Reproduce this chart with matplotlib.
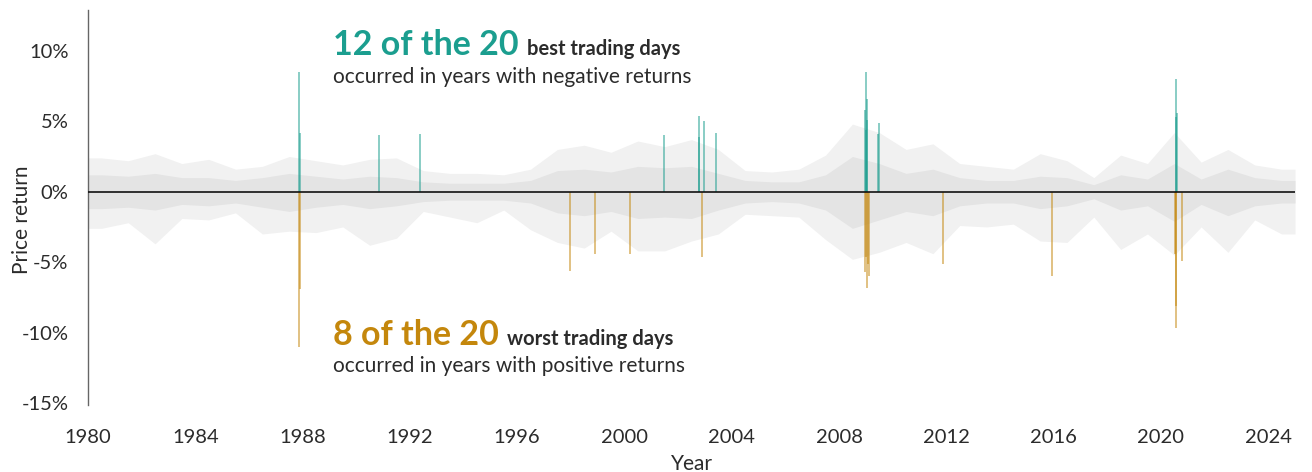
import numpy as np
import matplotlib.pyplot as plt

plt.rcParams['font.family'] = ['Lato', 'DejaVu Sans']

# approximate daily-return envelope per calendar year (read off the grey noise)
years = list(range(1980, 2025))
noise_hi = [2.4, 2.2, 2.7, 2.0, 2.3, 1.6, 1.8, 2.5, 2.2, 1.9, 2.3, 2.4, 1.5, 1.3, 1.3,
            1.2, 1.6, 3.0, 3.3, 2.8, 3.6, 3.2, 3.7, 3.0, 1.5, 1.4, 1.6, 2.6, 4.8, 4.2,
            3.0, 3.4, 2.0, 1.8, 1.6, 2.7, 2.2, 1.0, 2.6, 2.0, 4.2, 2.1, 3.0, 1.9, 1.6]
noise_lo = [-2.6, -2.2, -3.7, -1.9, -2.0, -1.5, -3.0, -2.8, -2.9, -2.5, -3.8, -3.3, -1.4, -1.8, -2.2,
            -1.3, -2.7, -3.6, -4.0, -2.8, -4.2, -4.2, -3.5, -3.0, -1.6, -1.7, -1.8, -3.4, -4.8, -4.3,
            -3.6, -4.4, -2.4, -2.5, -2.3, -3.5, -3.6, -1.8, -4.1, -3.0, -4.5, -2.5, -4.3, -2.0, -3.0]
core_hi = [1.2, 1.1, 1.3, 1.0, 1.0, 0.8, 1.0, 1.3, 1.1, 0.9, 1.1, 1.0, 0.7, 0.6, 0.6,
           0.6, 0.8, 1.5, 1.6, 1.4, 1.8, 1.7, 1.8, 1.3, 0.8, 0.7, 0.7, 1.2, 2.5, 2.0,
           1.3, 1.6, 1.0, 0.8, 0.8, 1.1, 1.0, 0.5, 1.2, 0.9, 2.0, 0.9, 1.6, 1.0, 0.8]
core_lo = [-1.2, -1.1, -1.3, -0.9, -1.0, -0.8, -1.1, -1.4, -1.1, -0.9, -1.2, -1.0, -0.7, -0.6, -0.6,
           -0.6, -0.8, -1.5, -1.7, -1.4, -1.9, -1.8, -1.9, -1.3, -0.8, -0.7, -0.8, -1.3, -2.6, -2.0,
           -1.4, -1.7, -1.0, -0.8, -0.8, -1.2, -1.0, -0.5, -1.3, -1.0, -2.1, -0.9, -1.7, -1.0, -0.8]

# 20 best days (teal) and worst days (gold)
best_dates = [1987.88, 1987.90, 1990.85, 1992.38, 2001.48, 2002.78, 2002.79, 2002.97, 2003.42,
              2008.96, 2008.99, 2009.01, 2009.03, 2009.05, 2009.44, 2009.48,
              2020.55, 2020.58, 2020.60]
best_vals = [8.5, 4.2, 4.0, 4.1, 4.0, 5.4, 3.9, 5.0, 4.2,
             5.8, 4.4, 8.5, 5.1, 6.6, 4.1, 4.9,
             5.3, 8.0, 5.6]
worst_dates = [1987.88, 1987.90, 1997.97, 1998.90, 2000.22, 2002.88,
               2008.97, 2009.02, 2009.03, 2009.08, 2009.12, 2011.88, 2015.94,
               2020.51, 2020.55, 2020.58, 2020.79]
worst_vals = [-11.0, -6.9, -5.6, -4.4, -4.4, -4.6,
              -5.7, -4.6, -6.8, -5.1, -6.0, -5.1, -6.0,
              -4.4, -8.1, -9.7, -4.9]

xticks = list(range(1980, 2025, 4))
yticks = [10, 5, 0, -5, -10, -15]
ytick_labels = ['10%', '5%', '0%', '-5%', '-10%', '-15%']

teal = '#1b9e8f'
gold = '#c4870c'
text_dark = '#2b2b2b'

fig = plt.figure(figsize=(13.12, 4.72), dpi=100)
ax = fig.add_axes([88 / 1312, 1 - 405 / 472, (1295 - 88) / 1312, (405 - 10) / 472])

# grey noise, drawn as envelopes centred in each year
xs = np.array([1980] + [y + 0.5 for y in years] + [2025])
def pad(v):
    return np.array([v[0]] + v + [v[-1]])
ax.fill_between(xs, pad(noise_lo), pad(noise_hi), color='#f1f1f1', lw=0, zorder=1)
ax.fill_between(xs, pad(core_lo), pad(core_hi), color='#e4e4e4', lw=0, zorder=1)

ax.vlines(best_dates, 0, best_vals, color=teal, alpha=0.6, lw=1.2, zorder=2)
ax.vlines(worst_dates, 0, worst_vals, color=gold, alpha=0.6, lw=1.2, zorder=2)
ax.axhline(0, color='#111111', lw=1.2, zorder=3)

ax.set_xlim(1980, 2025)
ax.set_ylim(-15.14, 12.9)
ax.set_xticks(xticks)
ax.set_xticklabels([str(x) for x in xticks])
ax.set_yticks(yticks)
ax.set_yticklabels(ytick_labels)
ax.tick_params(length=0, labelsize=14.5, labelcolor=text_dark)
ax.tick_params(axis='x', pad=17)
ax.tick_params(axis='y', pad=14)
for s in ['top', 'right', 'bottom']:
    ax.spines[s].set_visible(False)
ax.spines['left'].set_color('#666666')
ax.spines['left'].set_linewidth(1.0)

ax.set_xlabel('Year', fontsize=15, color=text_dark)
ax.xaxis.set_label_coords(0.5, -0.125)
ax.set_ylabel('Price return', fontsize=15, color=text_dark)
ax.yaxis.set_label_coords(-0.046, 0.47)

# annotations
t1 = ax.text(0.203, 0.886, '12 of the 20', transform=ax.transAxes, fontsize=24.5,
             fontweight='bold', color=teal, va='baseline', ha='left')
ax.annotate('best trading days', xy=(1, 0.886), xycoords=(t1, 'axes fraction'),
            xytext=(6, 0), textcoords='offset points', fontsize=14.5,
            fontweight='bold', color=text_dark, va='baseline', ha='left')
ax.text(0.203, 0.816, 'occurred in years with negative returns', transform=ax.transAxes,
        fontsize=15, color=text_dark, va='baseline', ha='left')

t2 = ax.text(0.203, 0.152, '8 of the 20', transform=ax.transAxes, fontsize=24.5,
             fontweight='bold', color=gold, va='baseline', ha='left')
ax.annotate('worst trading days', xy=(1, 0.152), xycoords=(t2, 'axes fraction'),
            xytext=(6, 0), textcoords='offset points', fontsize=14.5,
            fontweight='bold', color=text_dark, va='baseline', ha='left')
ax.text(0.203, 0.084, 'occurred in years with positive returns', transform=ax.transAxes,
        fontsize=15, color=text_dark, va='baseline', ha='left')

fig.savefig('out.png', dpi=100)
